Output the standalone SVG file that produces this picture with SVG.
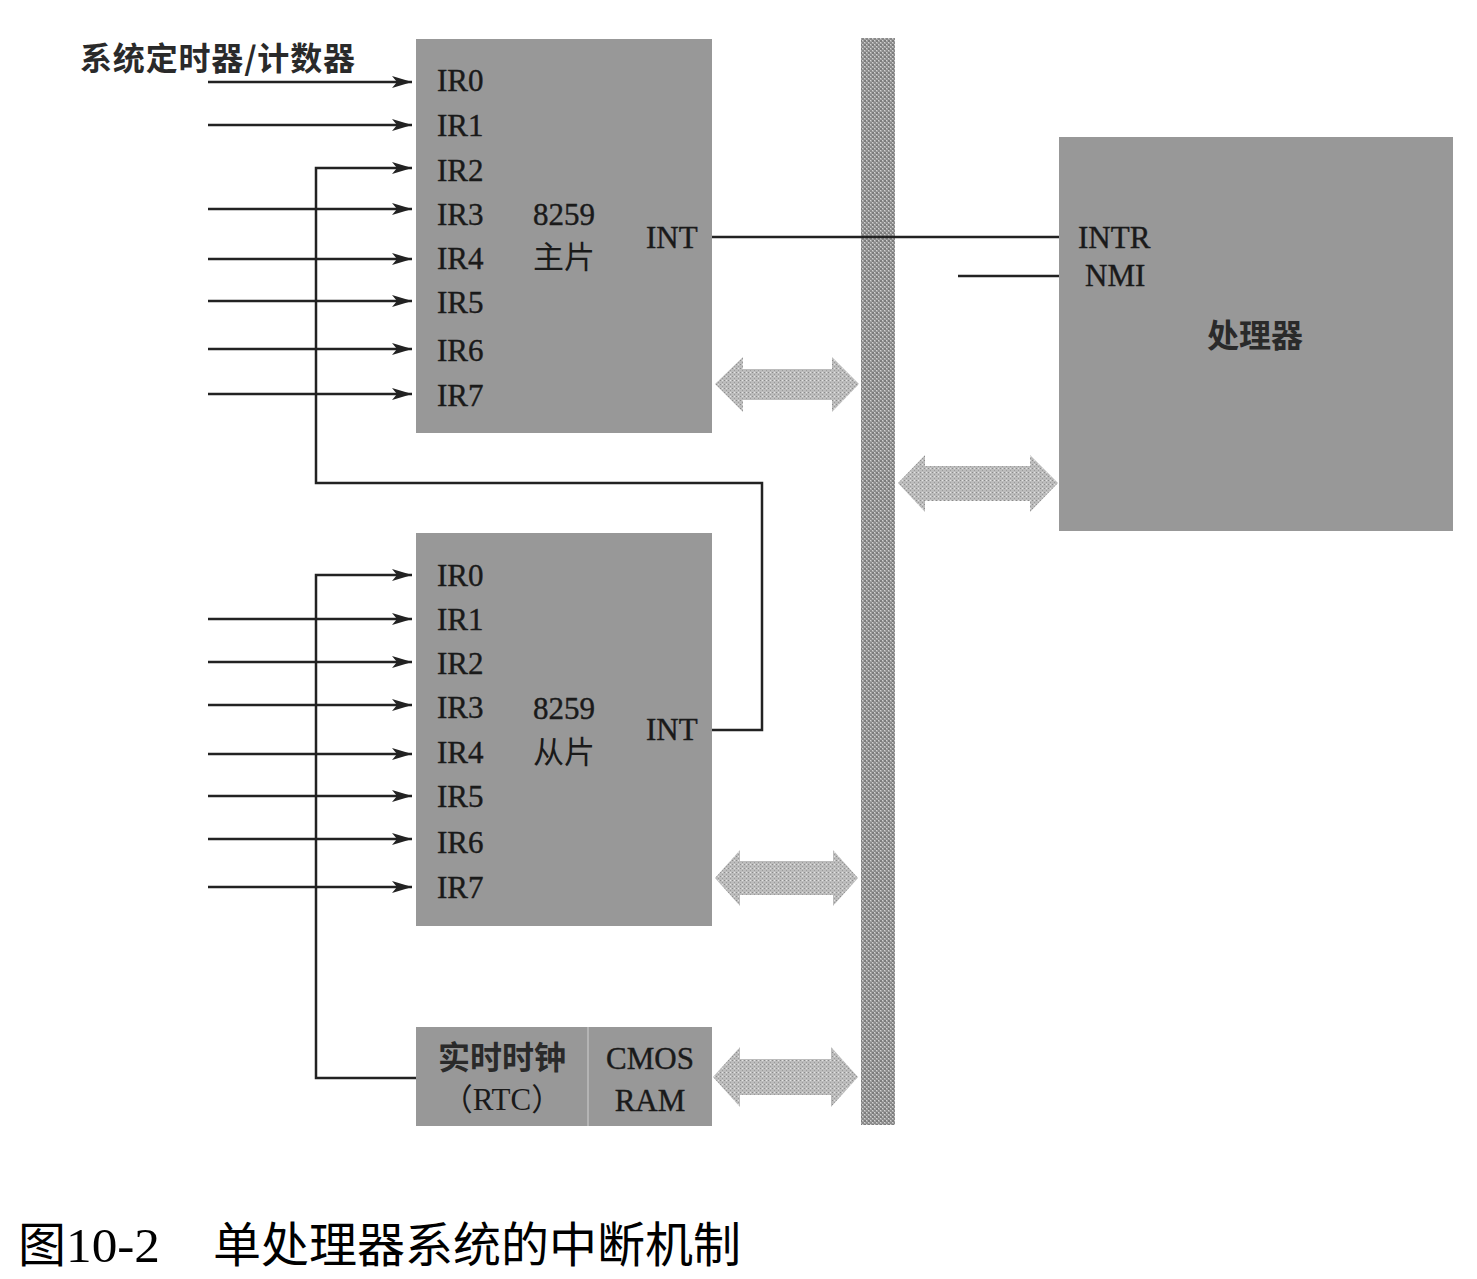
<svg xmlns="http://www.w3.org/2000/svg" width="1477" height="1279" viewBox="0 0 1477 1279">
<defs>
<style>
.blk{fill:#989898;}
.ln{fill:none;stroke:#222;stroke-width:2.5;}
.ir{font-family:"Liberation Serif",serif;font-size:31px;fill:#1a1a1a;stroke:#1a1a1a;stroke-width:0.4;}
.cj{font-family:"Liberation Serif","Noto Sans CJK SC",serif;font-size:31px;fill:#1a1a1a;}
.bold{font-family:"Noto Sans CJK SC",sans-serif;font-size:32px;font-weight:bold;fill:#2a2a2a;}
.cap{font-family:"Liberation Serif","Noto Sans CJK SC",serif;font-size:48px;fill:#000;}
.dbl{fill:url(#dotsL);}
</style>
<pattern id="dotsB" width="4" height="4" patternUnits="userSpaceOnUse">
<rect width="4" height="4" fill="#a4a4a4"/>
<rect x="0" y="0" width="2" height="2" fill="#7c7c7c"/>
<rect x="2" y="2" width="2" height="2" fill="#8a8a8a"/>
<rect x="2" y="0" width="1" height="1" fill="#d2d2d2"/>
<rect x="0" y="2" width="1" height="1" fill="#d2d2d2"/>
</pattern>
<pattern id="dotsL" width="4" height="4" patternUnits="userSpaceOnUse">
<rect width="4" height="4" fill="#bcbcbc"/>
<rect x="0" y="0" width="1" height="1" fill="#8c8c8c"/>
<rect x="2" y="2" width="1" height="1" fill="#9a9a9a"/>
<rect x="2" y="0" width="1" height="1" fill="#e2e2e2"/>
</pattern>
<marker id="ah" markerWidth="22" markerHeight="14" refX="20" refY="7" orient="auto" markerUnits="userSpaceOnUse">
<path d="M0,1 L20,7 L0,13 L5,7 Z" fill="#222"/>
</marker>
</defs>
<rect width="1477" height="1279" fill="#fff"/>

<g id="bus">
<rect x="861" y="38" width="34" height="1087" fill="url(#dotsB)"/>
</g>

<g id="master">
<rect class="blk" x="416" y="39" width="296" height="394"/>
<text class="ir" x="437" y="91">IR0</text>
<text class="ir" x="437" y="136">IR1</text>
<text class="ir" x="437" y="181">IR2</text>
<text class="ir" x="437" y="225">IR3</text>
<text class="ir" x="437" y="269">IR4</text>
<text class="ir" x="437" y="313">IR5</text>
<text class="ir" x="437" y="361">IR6</text>
<text class="ir" x="437" y="406">IR7</text>
<text class="ir" x="533" y="225">8259</text>
<text class="cj" x="533" y="268">主片</text>
<text class="ir" x="646" y="248">INT</text>
</g>

<g id="slave">
<rect class="blk" x="416" y="533" width="296" height="393"/>
<text class="ir" x="437" y="586">IR0</text>
<text class="ir" x="437" y="630">IR1</text>
<text class="ir" x="437" y="674">IR2</text>
<text class="ir" x="437" y="718">IR3</text>
<text class="ir" x="437" y="763">IR4</text>
<text class="ir" x="437" y="807">IR5</text>
<text class="ir" x="437" y="853">IR6</text>
<text class="ir" x="437" y="898">IR7</text>
<text class="ir" x="533" y="719">8259</text>
<text class="cj" x="533" y="763">从片</text>
<text class="ir" x="646" y="740">INT</text>
</g>

<g id="processor">
<rect class="blk" x="1059" y="137" width="394" height="394"/>
<text class="ir" x="1078" y="248">INTR</text>
<text class="ir" x="1085" y="286">NMI</text>
<text class="bold" x="1255" y="347" text-anchor="middle">处理器</text>
</g>

<g id="rtc">
<rect class="blk" x="416" y="1027" width="296" height="99"/>
<line x1="588" y1="1027" x2="588" y2="1126" stroke="#b4b4b4" stroke-width="2"/>
<text class="bold" x="502" y="1069" text-anchor="middle" font-size="31">实时时钟</text>
<text class="cj" x="502" y="1110" text-anchor="middle">（RTC）</text>
<text class="ir" x="650" y="1069" text-anchor="middle">CMOS</text>
<text class="ir" x="650" y="1111" text-anchor="middle">RAM</text>
</g>

<g id="timer-label">
<text class="bold" x="80" y="70" font-size="31" textLength="275" lengthAdjust="spacing">系统定时器/计数器</text>
</g>

<g id="connectors">
<line class="ln" x1="208" y1="82" x2="412" y2="82" marker-end="url(#ah)"/>
<line class="ln" x1="208" y1="125" x2="412" y2="125" marker-end="url(#ah)"/>
<polyline class="ln" points="712,730 762,730 762,483 316,483 316,168 412,168" marker-end="url(#ah)"/>
<line class="ln" x1="208" y1="209" x2="412" y2="209" marker-end="url(#ah)"/>
<line class="ln" x1="208" y1="259" x2="412" y2="259" marker-end="url(#ah)"/>
<line class="ln" x1="208" y1="301" x2="412" y2="301" marker-end="url(#ah)"/>
<line class="ln" x1="208" y1="349" x2="412" y2="349" marker-end="url(#ah)"/>
<line class="ln" x1="208" y1="394" x2="412" y2="394" marker-end="url(#ah)"/>

<polyline class="ln" points="416,1078 316,1078 316,575 412,575" marker-end="url(#ah)"/>
<line class="ln" x1="208" y1="619" x2="412" y2="619" marker-end="url(#ah)"/>
<line class="ln" x1="208" y1="662" x2="412" y2="662" marker-end="url(#ah)"/>
<line class="ln" x1="208" y1="705" x2="412" y2="705" marker-end="url(#ah)"/>
<line class="ln" x1="208" y1="754" x2="412" y2="754" marker-end="url(#ah)"/>
<line class="ln" x1="208" y1="796" x2="412" y2="796" marker-end="url(#ah)"/>
<line class="ln" x1="208" y1="839" x2="412" y2="839" marker-end="url(#ah)"/>
<line class="ln" x1="208" y1="887" x2="412" y2="887" marker-end="url(#ah)"/>

<line class="ln" x1="712" y1="237" x2="1059" y2="237"/>
<line class="ln" x1="958" y1="276" x2="1059" y2="276"/>

<path class="dbl" d="M715,384 L743,357 L743,369 L832,369 L832,357 L859,384 L832,412 L832,400 L743,400 L743,412 Z"/>
<path class="dbl" d="M898,483 L925,455 L925,466 L1030,466 L1030,455 L1058,483 L1030,512 L1030,501 L925,501 L925,512 Z"/>
<path class="dbl" d="M715,878 L740,850 L740,861 L833,861 L833,850 L858,878 L833,906 L833,895 L740,895 L740,906 Z"/>
<path class="dbl" d="M713,1077 L740,1047 L740,1059 L831,1059 L831,1047 L858,1077 L831,1107 L831,1095 L740,1095 L740,1107 Z"/>
</g>

<g id="caption">
<text class="cap" y="1262"><tspan x="18">图</tspan><tspan x="66" textLength="94" lengthAdjust="spacingAndGlyphs">10-2</tspan><tspan x="213">单处理器系统的中断机制</tspan></text>
</g>
</svg>
